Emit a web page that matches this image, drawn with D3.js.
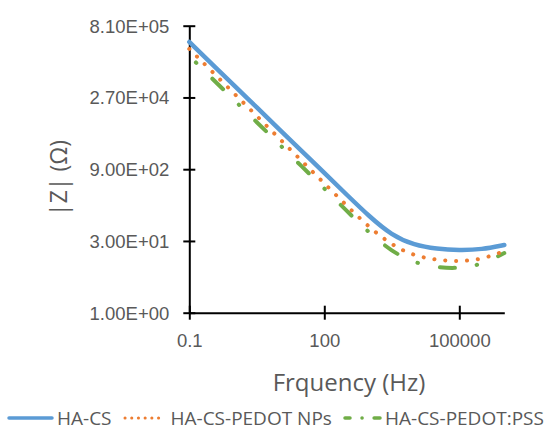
<!DOCTYPE html>
<html>
<head>
<meta charset="utf-8">
<script src="https://cdn.jsdelivr.net/npm/d3@7"></script>
<style>
  body { margin: 0; background: #fff; }
  svg { display: block; font-family: "Open Sans", sans-serif; }
</style>
</head>
<body>
<svg id="chart" width="547" height="441"></svg>
<script>
// frequency points (Hz), half-decade steps
const freqs = [0.1, 0.316, 1, 3.16, 10, 31.6, 100, 316, 1000, 3160, 10000, 31600, 100000, 316000, 1000000];

// |Z| values (ohm)
const haCs = [375000, 133000, 47200, 16800, 5970, 2125, 752, 268, 95.7, 39.2, 24.5, 20.5, 19.3, 20.0, 24.8];
const haCsPedotNps = [270000, 93400, 32300, 11200, 3860, 1330, 459, 159, 56.8, 24.8, 14.7, 12.2, 11.3, 12.5, 18.6];
const haCsPedotPss = [193000, 67300, 23700, 8360, 2930, 1024, 362, 124, 43.8, 18.2, 10.6, 8.53, 8.13, 9.83, 16.9];

const xTicks = [0.1, 100, 100000];
const xTickLabels = ["0.1", "100", "100000"];
const yTicks = [1, 30, 900, 27000, 810000];
const yTickLabels = ["1.00E+00", "3.00E+01", "9.00E+02", "2.70E+04", "8.10E+05"];

const seriesNames = ["HA-CS", "HA-CS-PEDOT NPs", "HA-CS-PEDOT:PSS"];

const svg = d3.select("#chart");
const textColor = "#595959";

const x = d3.scaleLog().domain([0.1, 1e6]).range([189.3, 504.3]);
const y = d3.scaleLog().domain([1, 810000]).range([312.7, 25.7]);

// axes
const xAxis = svg.append("g")
    .attr("transform", `translate(0,${y(1)})`)
    .call(d3.axisBottom(x).tickValues(xTicks).tickFormat((d, i) => xTickLabels[i]).tickSize(7).tickSizeOuter(0));
xAxis.select(".domain").attr("stroke", "#000").attr("stroke-width", 2);
xAxis.selectAll(".tick line").attr("y1", -7).attr("stroke", "#000").attr("stroke-width", 2);
xAxis.selectAll(".tick text")
    .attr("y", 0).attr("dy", null)
    .attr("transform", "translate(0,34)")
    .attr("fill", textColor)
    .style("font-size", "18.5px");

const yAxis = svg.append("g")
    .attr("transform", `translate(${x(0.1)},0)`)
    .call(d3.axisLeft(y).tickValues(yTicks).tickFormat((d, i) => yTickLabels[i]).tickSize(6).tickSizeOuter(0));
yAxis.select(".domain").attr("stroke", "#000").attr("stroke-width", 2);
yAxis.selectAll(".tick line").attr("x1", 6).attr("stroke", "#000").attr("stroke-width", 2);
yAxis.selectAll(".tick text")
    .attr("x", -20).attr("dy", "0.35em")
    .attr("fill", textColor)
    .style("font-size", "18.5px");

// axis titles
svg.append("text")
    .attr("x", 349).attr("y", 391)
    .attr("text-anchor", "middle")
    .attr("fill", textColor)
    .style("font-size", "24px")
    .text("Frquency (Hz)");

svg.append("text")
    .attr("transform", "translate(67,178) rotate(-90)")
    .attr("text-anchor", "middle")
    .attr("fill", textColor)
    .style("font-size", "23px")
    .text("|Z| (\u03A9)");

// lines (smoothed like the spreadsheet's curves)
const line = d3.line()
    .x(d => x(d[0]))
    .y(d => y(d[1]))
    .curve(d3.curveBasis);

const styles = [
    { color: "#5B9BD5", width: 4.5, dash: null, offset: 0 },
    { color: "#ED7D31", width: 4, dash: "0.1 10.8", offset: 0 },
    { color: "#70AD47", width: 4, dash: "15 22 0.5 22.5", offset: 27.6 }
];
const allSeries = [haCs, haCsPedotNps, haCsPedotPss];

// draw back to front so blue sits on top like the reference
[2, 1, 0].forEach(i => {
    const s = styles[i];
    svg.append("path")
        .datum(freqs.map((f, j) => [f, allSeries[i][j]]))
        .attr("fill", "none")
        .attr("stroke", s.color)
        .attr("stroke-width", s.width)
        .attr("stroke-linecap", "round")
        .attr("stroke-linejoin", "round")
        .attr("stroke-dasharray", s.dash)
        .attr("stroke-dashoffset", s.offset)
        .attr("d", line);
});

// legend
const legendY = 418;
const legendItems = [
    { x1: 9, x2: 52, tx: 57, width: 3.5, dash: null },
    { x1: 125, x2: 165, tx: 170.5, width: 3, dash: "0.1 6.6" },
    { x1: 345, x2: 380, tx: 385, width: 3.5, dash: "5 12 0.1 12 20" }
];
legendItems.forEach((it, i) => {
    svg.append("line")
        .attr("x1", it.x1).attr("x2", it.x2)
        .attr("y1", legendY).attr("y2", legendY)
        .attr("stroke", styles[i].color)
        .attr("stroke-width", it.width)
        .attr("stroke-linecap", "round")
        .attr("stroke-dasharray", it.dash);
    svg.append("text")
        .attr("x", it.tx).attr("y", legendY)
        .attr("dy", "0.35em")
        .attr("fill", textColor)
        .style("font-size", "19px")
        .text(seriesNames[i]);
});
</script>
</body>
</html>
